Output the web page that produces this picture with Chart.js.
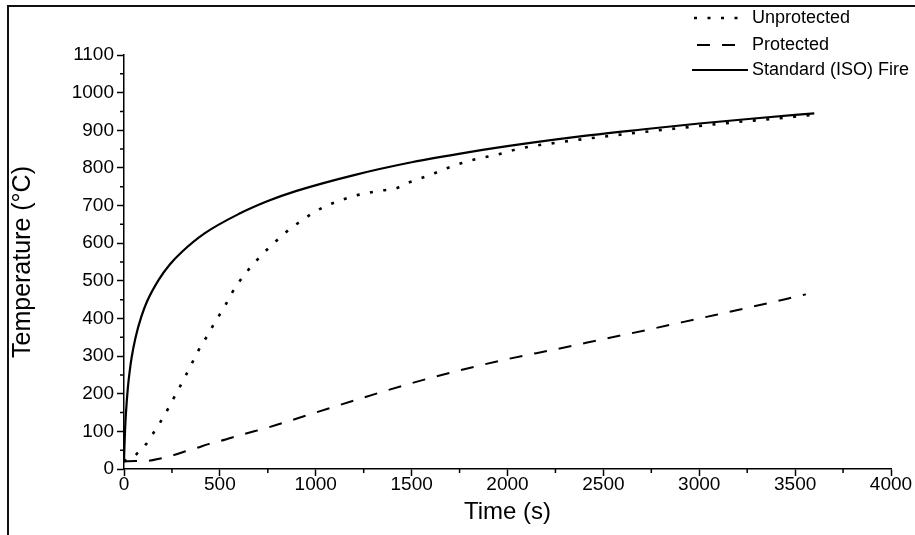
<!DOCTYPE html>
<html><head><meta charset="utf-8">
<script src="https://cdn.jsdelivr.net/npm/chart.js@4.4.1/dist/chart.umd.min.js"></script>
<style>html,body{margin:0;padding:0;background:#fff;}#wrap{width:915px;height:535px;position:relative;}</style>
</head><body><div id="wrap"><canvas id="c" width="915" height="535"></canvas></div>
<script>
// ---- data ----
const seriesNames = ['Unprotected', 'Protected', 'Standard (ISO) Fire'];

const unprotTime = [0, 66, 115, 150, 184, 219, 249, 280, 310, 339, 367, 397, 432, 463, 495, 527, 562, 597, 637, 679, 724, 773, 820, 870, 927, 985, 1049, 1114, 1189, 1267, 1342, 1415, 1479, 1551, 1620, 1688, 1763, 1841, 1916, 1989, 2059, 2300, 2600, 2900, 3200, 3400, 3590];
const unprotTemp = [20, 40, 66, 93, 120, 150, 179, 207, 237, 265, 294, 323, 352, 380, 407, 434, 467, 495, 522, 547, 572, 596, 618, 640, 660, 680, 698, 711, 724, 733, 740, 745, 760, 773, 786, 800, 813, 824, 832, 841, 851, 870, 889, 906, 922, 931, 941];

const protTime = [0, 60, 130, 190, 260, 320, 380, 440, 500, 620, 750, 870, 1000, 1250, 1500, 1750, 2000, 2250, 2500, 2750, 3000, 3250, 3556];
const protTemp = [20, 21, 22, 28, 37, 47, 56, 66, 74, 92, 110, 129, 150, 190, 228, 262, 292, 318, 345, 372, 400, 428, 464];

const isoTime = [0, 2, 5, 10, 20, 30, 40, 60, 90, 120, 180, 240, 300, 420, 600, 750, 900, 1200, 1500, 1800, 2100, 2400, 2700, 3000, 3300, 3600];
const isoTemp = [20, 55, 97, 147, 215, 261, 297, 349, 404, 445, 502, 544, 576, 626, 678, 712, 739, 781, 815, 842, 865, 885, 902, 918, 932, 945];

const xTickValues = [0, 500, 1000, 1500, 2000, 2500, 3000, 3500, 4000];
const yTickValues = [0, 100, 200, 300, 400, 500, 600, 700, 800, 900, 1000, 1100];

// ---- build chart ----
const pts = (xs, ys) => xs.map((x, i) => ({x: x, y: ys[i]}));
const FONT = "'Liberation Sans', Arial, sans-serif";

const styles = [
  {borderDash: [3, 10.5], borderWidth: 2.6},
  {borderDash: [13, 12], borderWidth: 2},
  {borderDash: [], borderWidth: 2.2}
];

const datasets = [
  Object.assign({label: seriesNames[0], data: pts(unprotTime, unprotTemp)}, styles[0]),
  Object.assign({label: seriesNames[1], data: pts(protTime, protTemp)}, styles[1]),
  Object.assign({label: seriesNames[2], data: pts(isoTime, isoTemp)}, styles[2])
].map(d => Object.assign(d, {borderColor: '#000', backgroundColor: '#000', pointRadius: 0, fill: false, cubicInterpolationMode: 'monotone', borderCapStyle: 'butt'}));

const framePlugin = {
  id: 'frame',
  beforeDraw(chart) {
    const c = chart.ctx;
    c.save();
    c.strokeStyle = '#111';
    c.lineWidth = 2;
    c.beginPath();
    c.moveTo(8, 535); c.lineTo(8, 6); c.lineTo(915, 6);
    c.stroke();
    c.restore();
  }
};

const minorTicks = {
  id: 'minorTicks',
  afterDraw(chart) {
    const c = chart.ctx, xs = chart.scales.x, ys = chart.scales.y;
    c.save();
    c.strokeStyle = '#000';
    c.lineWidth = 1.5;
    c.beginPath();
    for (let i = 0; i < xTickValues.length - 1; i++) {
      const v = (xTickValues[i] + xTickValues[i + 1]) / 2;
      const p = xs.getPixelForValue(v);
      c.moveTo(p, ys.bottom); c.lineTo(p, ys.bottom + 4);
    }
    for (let i = 0; i < yTickValues.length - 1; i++) {
      const v = (yTickValues[i] + yTickValues[i + 1]) / 2;
      const p = ys.getPixelForValue(v);
      c.moveTo(xs.left, p); c.lineTo(xs.left - 4, p);
    }
    c.stroke();
    c.restore();
  }
};

const legendPlugin = {
  id: 'customLegend',
  afterDraw(chart) {
    const c = chart.ctx;
    const rows = [18, 45, 70];
    const starts = [694, 697, 692];
    const ends = [748, 746, 748];
    c.save();
    c.font = "18px " + FONT;
    c.fillStyle = '#000';
    c.textBaseline = 'middle';
    chart.data.datasets.forEach((d, i) => {
      const y = rows[i];
      c.strokeStyle = '#000';
      c.lineWidth = d.borderWidth;
      c.setLineDash(d.borderDash);
      c.beginPath();
      c.moveTo(starts[i], y); c.lineTo(ends[i], y);
      c.stroke();
      c.setLineDash([]);
      c.fillText(d.label, 752, y);
    });
    c.restore();
  }
};

new Chart(document.getElementById('c'), {
  type: 'line',
  data: {datasets: datasets},
  options: {
    responsive: false,
    animation: false,
    layout: {padding: {left: 0, right: 24, top: 55, bottom: 0}},
    plugins: {legend: {display: false}, tooltip: {enabled: false}},
    scales: {
      x: {
        type: 'linear', min: 0, max: 4000,
        afterBuildTicks: s => { s.ticks = xTickValues.map(v => ({value: v})); },
        afterFit: s => { s.height = 535 - 469; },
        ticks: {color: '#000', font: {family: FONT, size: 19}, padding: -3, maxRotation: 0, callback: v => String(v)},
        grid: {drawOnChartArea: false, drawTicks: true, tickLength: 7, tickColor: '#000', tickWidth: 1.5},
        border: {color: '#000', width: 1.5},
        title: {display: true, text: 'Time (s)', color: '#000', font: {family: FONT, size: 24}, padding: {top: 0, bottom: 8}}
      },
      y: {
        type: 'linear', min: 0, max: 1100,
        afterBuildTicks: s => { s.ticks = yTickValues.map(v => ({value: v})); },
        afterFit: s => { s.width = 124; },
        ticks: {color: '#000', font: {family: FONT, size: 19}, padding: 3, callback: v => String(v)},
        grid: {drawOnChartArea: false, drawTicks: true, tickLength: 7, tickColor: '#000', tickWidth: 1.5},
        border: {color: '#000', width: 1.5},
        title: {display: true, text: 'Temperature (°C)', color: '#000', font: {family: FONT, size: 25}, padding: {top: 8, bottom: 0}}
      }
    }
  },
  plugins: [framePlugin, minorTicks, legendPlugin]
});
</script>
</body></html>
